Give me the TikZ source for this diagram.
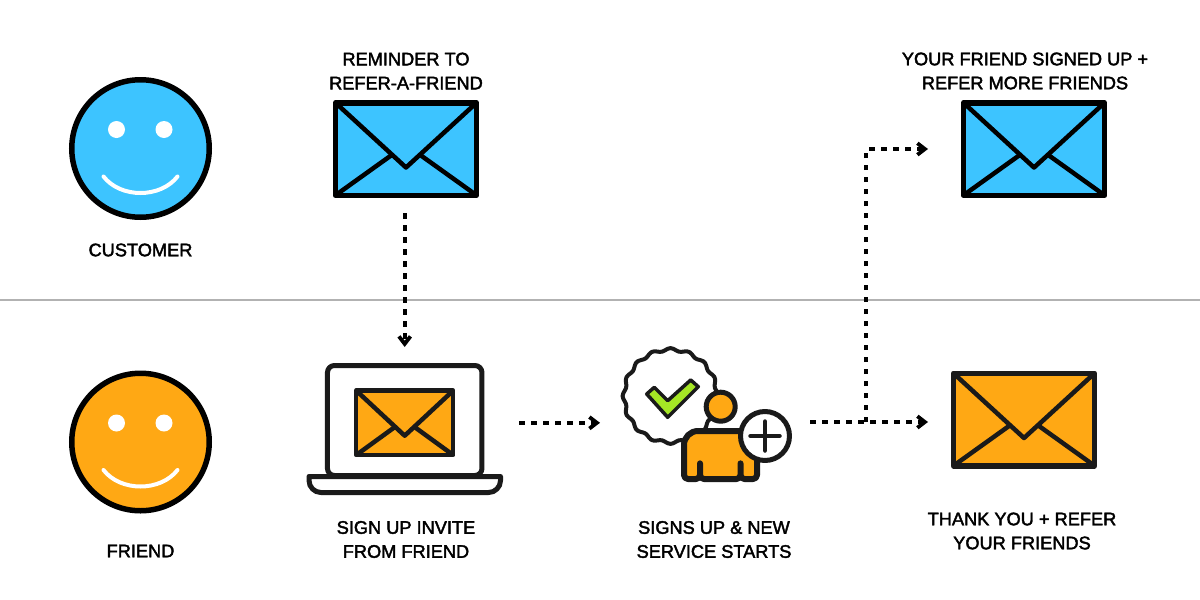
\documentclass[tikz,border=0pt]{standalone}
\usepackage{fontspec}
\setmainfont{Liberation Sans}[RawFeature={embolden=2.2}]
\usetikzlibrary{arrows.meta,positioning,calc}
\definecolor{skyfill}{HTML}{3DC4FF}
\definecolor{amberfill}{HTML}{FFA814}
\definecolor{tickfill}{HTML}{A5E625}
\definecolor{ink}{HTML}{1A1A1A}
\newcommand{\flaps}[1]{
\draw[flap] (#1.north west)--($(#1.north)!.7!(#1.south)$)--(#1.north east);
\draw[flap] (#1.south west)--($($(#1.north west)!.57!(#1.south west)$)!.394!($(#1.north east)!.57!(#1.south east)$)$);
\draw[flap] (#1.south east)--($($(#1.north east)!.57!(#1.south east)$)!.394!($(#1.north west)!.57!(#1.south west)$)$);
}
\begin{document}
\begin{tikzpicture}[x=1pt,y=-1pt,
mail/.style={draw,rectangle,outer sep=0pt,inner sep=0pt,line width=5.5pt,line join=round,minimum width=141pt,minimum height=92.5pt},
flap/.style={line width=4.5pt,line join=round},
face/.style={draw,circle,outer sep=0pt,inner sep=0pt,line width=5.5pt,minimum size=137.5pt},
eye/.style={circle,fill=white,inner sep=0pt,minimum size=17pt},
smile/.style={draw=white,line width=4pt,line cap=round},
caption/.style={align=center,inner sep=0pt,font=\fontsize{18.2}{24}\selectfont},
dots/.style={line width=4pt,dash pattern=on 5.5pt off 6.5pt,-{Straight Barb[length=7.5pt,width=11.5pt,line width=3.8pt]}},
icon/.style={draw=ink,line width=5pt,line join=round}]
\useasboundingbox (0,0) rectangle (1200,600);
\draw[line width=2pt,black!30] (0,300)--(1200,300);
% faces
\foreach \nm/\cy/\col in {customer/148.5/skyfill,friend/442/amberfill}{
\node[face,fill=\col] (\nm) at (140.5,\cy) {};
\node[eye] (\nm eyel) at ($(\nm)+(-24,-19)$) {};
\node[eye] (\nm eyer) at ($(\nm)+(23.5,-19)$) {};
\draw[smile] ($(\nm)+(-37,28)$) .. controls ($(\nm)+(-20,50)$) and ($(\nm)+(20,50)$) .. ($(\nm)+(37,28)$);
}
\node[caption] (customertxt) at (140.5,250) {CUSTOMER};
\node[caption] (friendtxt) at (140.5,551) {FRIEND};
% mails
\node[mail,fill=skyfill] (remind) at (406,149) {};
\flaps{remind}
\node[caption] (remindtxt) at (406,71) {REMINDER TO\\REFER-A-FRIEND};
\node[mail,fill=skyfill] (refer) at (1034,149) {};
\flaps{refer}
\node[caption] (refertxt) at (1025,71) {YOUR FRIEND SIGNED UP +\\REFER MORE FRIENDS};
\node[mail,fill=amberfill,draw=ink] (thanks) at (1024,419.5) {};
\begin{scope}[draw=ink]\flaps{thanks}\end{scope}
\node[caption] (thankstxt) at (1022,531) {THANK YOU + REFER\\YOUR FRIENDS};
% laptop
\node[icon,rectangle,rounded corners=7pt,outer sep=0pt,minimum width=154.5pt,minimum height=110pt] (laptop) at (404.7,420.5) {};
\draw[icon,fill=white] (309,476.5)--(500.5,476.5)[rounded corners=12pt]--(500.5,492.5)--(309,492.5)[sharp corners]--cycle;
\node[mail,fill=amberfill,draw=ink,line width=4.5pt,minimum width=97pt,minimum height=64.5pt] (screen) at (404.7,422.8) {};
\begin{scope}[draw=ink]\flaps{screen}\end{scope}
\node[caption] (laptoptxt) at (406,539.5) {SIGN UP INVITE\\FROM FRIEND};
% person
\draw[icon,fill=white,line width=4pt] plot[smooth cycle,samples=108,domain=0:356.67] ({670.5+(46.5+1.4*cos(16*\x))*cos(\x)},{396+(46.5+1.4*cos(16*\x))*sin(\x)});
\draw[icon,fill=tickfill,line width=3.5pt] (646.7,394)--(654.3,387.3)--(667.7,400.7)--(690.7,380)--(698.3,386.7)--(667.7,417.3)--cycle;
\node[icon,circle,fill=amberfill,outer sep=0pt,inner sep=0pt,minimum size=29pt] (head) at (720.7,406.7) {};
\draw[icon,fill=amberfill,line width=6pt] (684,455)[rounded corners=14pt]--(684,431)--(757,431)[rounded corners=4pt]--(757,479)--(740.5,479)--(740.5,461)--(740.5,479)--(700,479)--(700,461)--(700,479)--(684,479)--cycle;
\node[icon,circle,fill=white,outer sep=0pt,inner sep=0pt,minimum size=49pt] (plus) at (765,436) {};
\draw[icon,line cap=round,line width=4.5pt] ($(plus)+(-14.5,0)$)--($(plus)+(14.5,0)$);
\draw[icon,line cap=round,line width=4.5pt] ($(plus)+(0,-14.5)$)--($(plus)+(0,14.5)$);
\node[caption] (persontxt) at (714,539.5) {SIGNS UP \& NEW\\SERVICE STARTS};
% connectors
\coordinate (personin) at (600,422.8);
\coordinate (personout) at (810,422);
\coordinate (branch) at (866,422);
\draw[dots,shorten <=18pt,shorten >=18.5pt] (laptop.north |- remind.south)--(laptop.north);
\draw[dots,shorten <=66pt] (screen.east)--(personin);
\draw[dots,shorten >=25.5pt] (personout)--(personout -| thanks.west);
\draw[dots,shorten >=35.5pt] (branch)|-(refer.west);
\end{tikzpicture}
\end{document}
